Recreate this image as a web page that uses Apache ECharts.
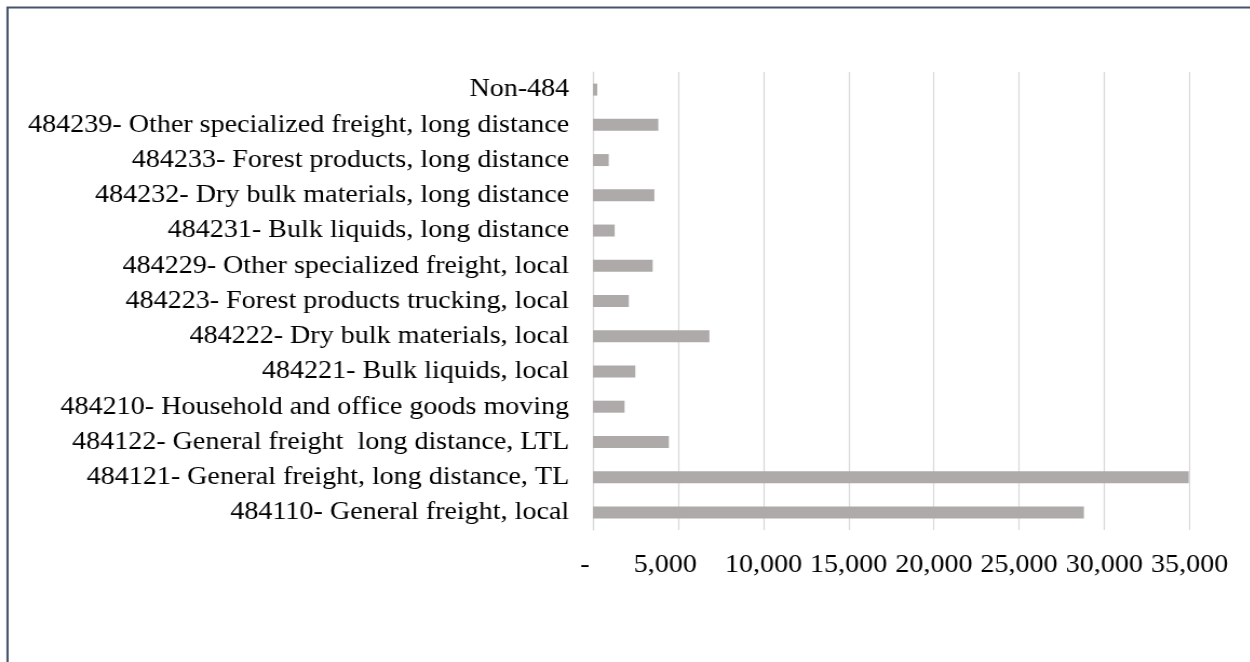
<!DOCTYPE html>
<html>
<head>
<meta charset="utf-8">
<script src="https://cdn.jsdelivr.net/npm/echarts@6/dist/echarts.min.js"></script>
<style>
  html, body { margin: 0; padding: 0; background: #ffffff; overflow: hidden; }
  /* Serif type here sets a little wider than the installed face, so the
     drawing is widened slightly along x. */
  #chart { width: 1157px; height: 662px; transform: scaleX(1.08); transform-origin: 0 0; }
</style>
</head>
<body>
<div id="chart"></div>
<script>
// Industry categories, listed bottom to top
const categories = [
  '484110- General freight, local',
  '484121- General freight, long distance, TL',
  '484122- General freight  long distance, LTL',
  '484210- Household and office goods moving',
  '484221- Bulk liquids, local',
  '484222- Dry bulk materials, local',
  '484223- Forest products trucking, local',
  '484229- Other specialized freight, local',
  '484231- Bulk liquids, long distance',
  '484232- Dry bulk materials, long distance',
  '484233- Forest products, long distance',
  '484239- Other specialized freight, long distance',
  'Non-484'
];
const values = [28800, 34950, 4450, 1850, 2480, 6830, 2100, 3500, 1270, 3600, 920, 3830, 250];

// Value axis ticks
const axisMin = 0;
const axisMax = 35000;
const axisStep = 5000;

const SX = 1.08; // horizontal widening applied by CSS
const FONT = 'Liberation Serif, Times New Roman, serif';
const labelStyle = { fontFamily: FONT, fontSize: 26, color: '#000000' };

const chart = echarts.init(document.getElementById('chart'), null, { renderer: 'canvas' });

chart.setOption({
  backgroundColor: '#ffffff',
  animation: false,
  graphic: [{
    type: 'polyline',
    shape: { points: [[7.5 / SX, 662], [7.5 / SX, 7.5], [1250 / SX, 7.5]] },
    style: { stroke: '#44546A', lineWidth: 2, fill: null }
  }],
  grid: { left: 593 / SX, right: 60 / SX, top: 72, bottom: 132, containLabel: false },
  xAxis: {
    type: 'value',
    min: axisMin,
    max: axisMax,
    interval: axisStep,
    axisLine: { show: false },
    axisTick: { show: false },
    splitLine: { show: true, lineStyle: { color: '#D9D9D9', width: 1.2 } },
    axisLabel: {
      margin: 22,
      ...labelStyle,
      formatter: function (v) {
        if (v === 0) return '{d|-}';
        const s = v.toLocaleString('en-US');
        if (v < 10000) return '{p|' + s + '}';
        return s;
      },
      rich: {
        d: { ...labelStyle, padding: [0, 15, 0, 0] },
        p: { ...labelStyle, padding: [0, 24, 0, 0] }
      }
    }
  },
  yAxis: {
    type: 'category',
    data: categories,
    axisLine: { show: true, lineStyle: { color: '#D9D9D9', width: 1.2 } },
    axisTick: { show: false },
    axisLabel: { margin: 22, ...labelStyle }
  },
  series: [{
    type: 'bar',
    data: values,
    barWidth: 12,
    itemStyle: { color: '#AEAAAA' }
  }]
});
</script>
</body>
</html>
